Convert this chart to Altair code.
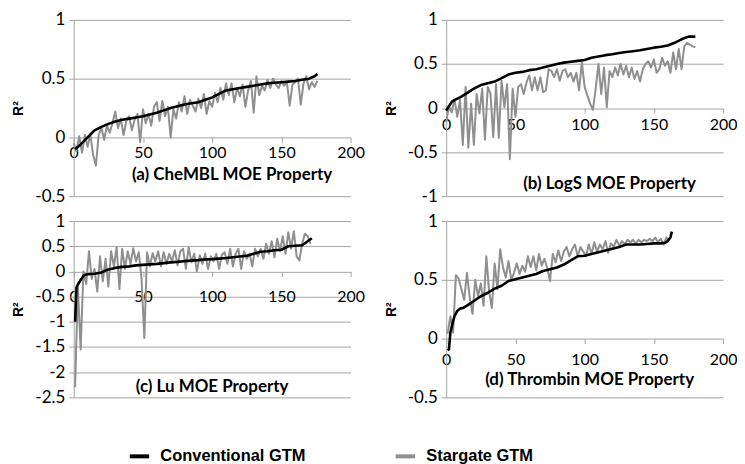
import altair as alt
import pandas as pd

SERIES = ["Conventional GTM", "Stargate GTM"]
COLORS = ["#000000", "#8f8f8f"]
X_TICKS = [0, 50, 100, 150, 200]

# ---- (a) CheMBL ----
a_conv_x = [1, 5, 10, 15, 20, 25, 30, 35, 40, 45, 50, 55, 60, 65, 70, 75, 80, 85, 90, 95,
            100, 105, 110, 115, 120, 125, 130, 135, 140, 145, 150, 155, 160, 165, 170, 174, 176]
a_conv_y = [-0.10, -0.06, 0.0, 0.06, 0.09, 0.115, 0.135, 0.15, 0.16, 0.17, 0.18, 0.195, 0.21, 0.23,
            0.25, 0.265, 0.28, 0.29, 0.30, 0.32, 0.34, 0.37, 0.40, 0.41, 0.42, 0.43, 0.44, 0.45,
            0.46, 0.465, 0.47, 0.475, 0.48, 0.49, 0.50, 0.52, 0.54]
a_star_start, a_star_step = 0, 2
a_star_y = [-0.05, -0.12, 0.01, -0.13, 0.02, -0.08, 0.03, -0.15, -0.24, 0.02,
            0.08, -0.02, 0.10, 0.04, 0.12, 0.22, 0.08, 0.16, 0.02, 0.14,
            0.18, 0.06, 0.15, 0.20, -0.04, 0.24, 0.12, 0.20, 0.10, 0.26,
            0.30, 0.14, 0.31, 0.18, 0.26, 0.00, 0.24, 0.16, 0.30, 0.22,
            0.35, 0.20, 0.32, 0.27, 0.22, 0.33, 0.25, 0.37, 0.20, 0.31,
            0.26, 0.38, 0.30, 0.42, 0.32, 0.46, 0.36, 0.46, 0.30, 0.42,
            0.35, 0.45, 0.26, 0.40, 0.48, 0.21, 0.52, 0.36, 0.44, 0.40,
            0.49, 0.42, 0.50, 0.45, 0.42, 0.48, 0.44, 0.47, 0.27, 0.45,
            0.47, 0.50, 0.28, 0.46, 0.52, 0.41, 0.47, 0.43, 0.48]

# ---- (b) LogS ----
b_conv_x = [0, 2, 4, 6, 10, 15, 20, 25, 30, 35, 40, 45, 50, 55, 60, 65, 70, 75, 80, 85, 90, 95,
            100, 105, 110, 115, 120, 125, 130, 135, 140, 145, 150, 155, 160, 165, 170, 175, 180]
b_conv_y = [-0.03, 0.02, 0.07, 0.09, 0.12, 0.17, 0.22, 0.26, 0.28, 0.30, 0.34, 0.38, 0.40, 0.41,
            0.43, 0.44, 0.46, 0.48, 0.50, 0.515, 0.525, 0.535, 0.545, 0.57, 0.585, 0.60, 0.61,
            0.625, 0.635, 0.645, 0.655, 0.67, 0.685, 0.695, 0.71, 0.74, 0.78, 0.81, 0.81]
b_star_start, b_star_step = 0, 2
b_star_y = [-0.16, 0.02, -0.05, 0.10, -0.10, 0.09, -0.42, 0.24, -0.45, 0.05,
            -0.42, 0.16, -0.06, 0.22, -0.36, 0.24, 0.16, -0.33, 0.27, -0.34,
            0.31, 0.01, 0.27, -0.58, 0.22, -0.10, 0.24, 0.27, 0.16, 0.29,
            0.37, 0.20, 0.35, 0.20, 0.35, 0.18, 0.20, 0.44, 0.42, 0.35,
            0.44, 0.31, 0.42, 0.44, 0.35, 0.40, 0.30, 0.40, 0.20, 0.52,
            0.24, 0.14, 0.05, -0.02, 0.22, 0.50, 0.16, 0.46, 0.01, 0.42,
            0.35, 0.46, 0.37, 0.50, 0.38, 0.48, 0.35, 0.46, 0.33, 0.42,
            0.30, 0.44, 0.50, 0.53, 0.46, 0.55, 0.40, 0.44, 0.57, 0.48,
            0.53, 0.40, 0.63, 0.44, 0.67, 0.44, 0.70, 0.74, 0.72, 0.70,
            0.69]

# ---- (c) Lu ----
c_conv_x = [1, 2, 3, 5, 7, 9, 12, 15, 20, 25, 30, 35, 40, 45, 50, 55, 60, 65, 70, 75, 80, 85, 90,
            95, 100, 105, 110, 115, 120, 125, 130, 135, 140, 145, 150, 155, 160, 165, 168, 172]
c_conv_y = [-1.0, -0.32, -0.26, -0.17, -0.09, -0.06, -0.05, -0.045, -0.02, 0.04, 0.07, 0.09, 0.10,
            0.12, 0.13, 0.14, 0.15, 0.165, 0.18, 0.19, 0.205, 0.215, 0.225, 0.24, 0.245, 0.255,
            0.265, 0.28, 0.295, 0.31, 0.35, 0.39, 0.40, 0.42, 0.43, 0.50, 0.51, 0.52, 0.58, 0.66]
c_star_start, c_star_step = 1, 2
c_star_y = [-2.30, -0.30, -1.55, 0.00, -0.25, 0.40, -0.15, 0.05, -0.40, 0.30,
            -0.20, 0.25, -0.30, 0.40, 0.10, 0.48, -0.35, 0.45, 0.05, 0.40,
            0.15, 0.46, 0.20, 0.38, -0.15, -1.32, 0.38, 0.10, 0.36, 0.20,
            0.40, 0.10, 0.38, 0.15, 0.35, 0.20, 0.42, 0.12, 0.40, 0.45,
            0.05, 0.48, 0.18, 0.35, 0.00, 0.32, 0.15, 0.35, 0.05, 0.30,
            0.20, 0.35, 0.05, 0.33, 0.38, 0.15, 0.45, 0.10, 0.35, 0.45,
            0.05, 0.40, 0.25, 0.35, 0.10, 0.45, 0.30, 0.45, 0.25, 0.55,
            0.35, 0.60, 0.28, 0.65, 0.40, 0.70, 0.35, 0.78, 0.45, 0.80,
            0.30, 0.22, 0.55, 0.75, 0.70, 0.55]

# ---- (d) Thrombin ----
d_conv_x = [1, 2, 3, 4, 5, 6, 8, 10, 12, 15, 20, 25, 30, 35, 40, 45, 50, 55, 60, 65, 70, 75, 80,
            85, 90, 95, 100, 105, 110, 115, 120, 125, 130, 135, 140, 145, 150, 155, 158, 160, 162, 163]
d_conv_y = [-0.10, -0.09, 0.05, 0.10, 0.15, 0.19, 0.235, 0.255, 0.26, 0.28, 0.32, 0.36, 0.39, 0.425,
            0.45, 0.49, 0.505, 0.52, 0.535, 0.55, 0.575, 0.59, 0.605, 0.63, 0.665, 0.70, 0.705,
            0.72, 0.735, 0.75, 0.765, 0.78, 0.80, 0.80, 0.80, 0.805, 0.81, 0.81, 0.815, 0.83,
            0.86, 0.91]
d_star_start, d_star_step = 1, 2
d_star_y = [0.04, 0.19, 0.05, 0.54, 0.51, 0.42, 0.33, 0.56, 0.35, 0.21,
            0.50, 0.36, 0.47, 0.28, 0.70, 0.40, 0.26, 0.64, 0.42, 0.76,
            0.61, 0.52, 0.66, 0.50, 0.56, 0.64, 0.55, 0.62, 0.57, 0.70,
            0.61, 0.70, 0.58, 0.72, 0.62, 0.68, 0.60, 0.49, 0.72, 0.65,
            0.75, 0.66, 0.74, 0.78, 0.70, 0.76, 0.80, 0.70, 0.78, 0.74,
            0.70, 0.80, 0.72, 0.82, 0.74, 0.80, 0.76, 0.83, 0.73, 0.81,
            0.78, 0.84, 0.79, 0.83, 0.80, 0.84, 0.82, 0.84, 0.81, 0.84,
            0.82, 0.84, 0.83, 0.85, 0.83, 0.86, 0.82, 0.85, 0.80, 0.86,
            0.84]

W, H = 278, 177
GRID = "#a3a3a3"
TICK_FONT = "Lato"


def panel(conv_x, conv_y, star_start, star_step, star_y, title, ydom, yvals,
          title_pos, lab_pad, legend):
    conv = pd.DataFrame({"x": conv_x, "y": conv_y, "series": SERIES[0]})
    star_x = [star_start + star_step * i for i in range(len(star_y))]
    star = pd.DataFrame({"x": star_x, "y": star_y, "series": SERIES[1]})
    zero_off = -H * (0 - ydom[0]) / (ydom[1] - ydom[0])
    xenc = alt.X("x:Q", scale=alt.Scale(domain=[0, 200], nice=False, zero=False),
                 axis=alt.Axis(values=X_TICKS, tickCount=20, offset=zero_off, domain=False,
                               grid=False, ticks=True, tickSize=5, tickColor=GRID,
                               labelPadding=lab_pad, title=None, labelFont=TICK_FONT,
                               labelFontSize=16, labelColor="black", labelFlush=False,
                               labelOverlap=False))
    yenc = alt.Y("y:Q", scale=alt.Scale(domain=ydom, nice=False, zero=False),
                 axis=alt.Axis(values=yvals, tickCount=20, grid=True, gridColor=GRID,
                               domain=True, domainColor=GRID, ticks=True, tickSize=5,
                               tickColor=GRID, labelPadding=4, labelFont=TICK_FONT,
                               labelFontSize=17, labelColor="black",
                               labelExpr="toString(datum.value)",
                               labelOverlap=False, labelBound=False,
                               title="R²", titleFont="Liberation Sans", titleFontWeight="bold",
                               titleFontSize=14, titleColor="black", titlePadding=9))
    cenc = alt.Color("series:N", scale=alt.Scale(domain=SERIES, range=COLORS), legend=legend)
    gray = alt.Chart(star).mark_line(strokeWidth=2, strokeJoin="round").encode(
        x=xenc, y=yenc, color=cenc)
    black = alt.Chart(conv).mark_line(strokeWidth=2.6, strokeJoin="round").encode(
        x="x:Q", y="y:Q", color=alt.Color("series:N", scale=alt.Scale(domain=SERIES, range=COLORS),
                                          legend=None))
    txt = alt.Chart(pd.DataFrame({"t": [title]})).mark_text(
        font=TICK_FONT, fontWeight="bold", fontSize=17, color="black", baseline="middle",
        align="center").encode(text="t:N", x=alt.value(title_pos[0]), y=alt.value(title_pos[1]))
    return alt.layer(gray, black, txt).properties(width=W, height=H)


leg = alt.Legend(orient="none", legendX=54, legendY=426, direction="horizontal", title=None,
                 symbolType="stroke", symbolSize=380, symbolStrokeWidth=4,
                 labelFont="Liberation Sans", labelFontWeight="bold", labelFontSize=16.5,
                 labelColor="black", labelOffset=9, columnPadding=82, padding=0)

pa = panel(a_conv_x, a_conv_y, a_star_start, a_star_step, a_star_y, "(a) CheMBL MOE Property",
           [-0.5, 1], [-0.5, 0, 0.5, 1], (159, 156), 2, leg)
pb = panel(b_conv_x, b_conv_y, b_star_start, b_star_step, b_star_y, "(b) LogS MOE Property",
           [-1, 1], [-1, -0.5, 0, 0.5, 1], (164, 165), 4, None)
pc = panel(c_conv_x, c_conv_y, c_star_start, c_star_step, c_star_y, "(c) Lu MOE Property",
           [-2.5, 1], [-2.5, -2, -1.5, -1, -0.5, 0, 0.5, 1], (139, 167), 12, None)
pd_ = panel(d_conv_x, d_conv_y, d_star_start, d_star_step, d_star_y, "(d) Thrombin MOE Property",
            [-0.5, 1], [-0.5, 0, 0.5, 1], (144, 160), 8, None)

chart = alt.concat(pa, pb, pc, pd_, columns=2, spacing={"row": 25, "column": 96},
                   bounds="flush").properties(
    padding={"left": 3, "top": 2, "right": 0, "bottom": 0},
    background="white",
).configure_view(stroke=None)

chart.save("out.html", embed_options={"renderer": "svg", "actions": False})
